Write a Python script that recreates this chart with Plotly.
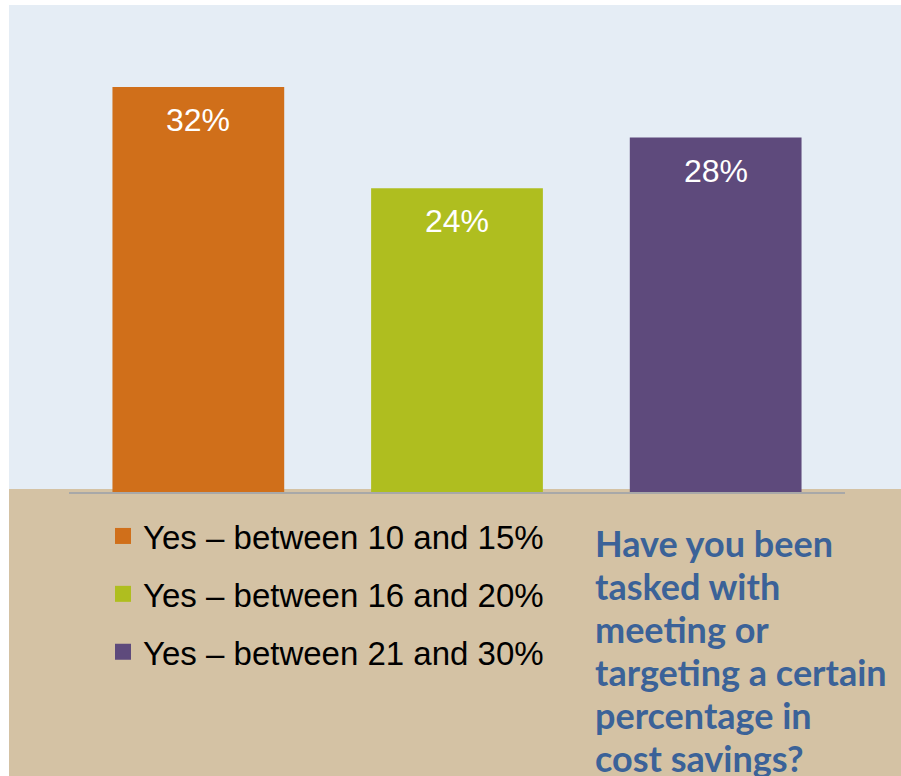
import plotly.graph_objects as go

# Survey responses: share of respondents per savings target band
categories = ["Yes – between 10 and 15%", "Yes – between 16 and 20%", "Yes – between 21 and 30%"]
values = [32, 24, 28]
bar_colors = ["#D06F1A", "#AFBE1F", "#5E4A7C"]
question_lines = [
    "Have you been",
    "tasked with",
    "meeting or",
    "targeting a certain",
    "percentage in",
    "cost savings?",
]

W, H = 901, 776
PLOT_L, PLOT_R = 69, 845
PLOT_T, PLOT_B = 5, 492
Y_MAX = (PLOT_B - PLOT_T) / 12.66


def px_x(px):
    return (px - PLOT_L) / (PLOT_R - PLOT_L)


def px_y(py):
    return (PLOT_B - py) / (PLOT_B - PLOT_T)


fig = go.Figure()

fig.add_trace(go.Bar(
    x=categories,
    y=values,
    marker=dict(color=bar_colors, line=dict(width=0)),
    showlegend=False,
    hoverinfo="skip",
))

# Legend entries with larger square swatches
for i, (name, col) in enumerate(zip(categories, bar_colors)):
    fig.add_trace(go.Scatter(
        x=[None], y=[None], mode="markers", name=name,
        legendgroup=f"g{i}",
        marker=dict(symbol="square", size=16, color=col, line=dict(width=0)),
    ))

# Value labels inside the top of each bar
for cat, v in zip(categories, values):
    fig.add_annotation(
        x=cat, y=v, text=f"{v}%", showarrow=False,
        yanchor="middle", yshift=-33,
        font=dict(family="Arial, Liberation Sans, sans-serif", size=32, color="white"),
    )

# Question text, one annotation per line for tight leading
line_centers = [543, 586, 629, 672, 715, 758]
for txt, cy in zip(question_lines, line_centers):
    fig.add_annotation(
        xref="paper", yref="paper", x=px_x(593), y=px_y(cy),
        xanchor="left", yanchor="middle", showarrow=False,
        text=f"<b>{txt}</b>",
        font=dict(family="Lato, sans-serif", size=36, color="#3B6298"),
    )

# Background panels: light blue chart area, tan lower band
fig.add_shape(type="rect", xref="paper", yref="paper", layer="below",
              x0=px_x(9), x1=px_x(905), y0=px_y(489), y1=px_y(5),
              fillcolor="#E5EDF5", line=dict(width=0))
fig.add_shape(type="rect", xref="paper", yref="paper", layer="below",
              x0=px_x(9), x1=px_x(905), y0=px_y(780), y1=px_y(489),
              fillcolor="#D4C2A4", line=dict(width=0))

fig.update_layout(
    width=W, height=H,
    margin=dict(l=PLOT_L, r=W - PLOT_R, t=PLOT_T, b=H - PLOT_B, pad=0),
    paper_bgcolor="white",
    plot_bgcolor="rgba(0,0,0,0)",
    bargap=0.336,
    xaxis=dict(
        range=[-0.5, 2.5], showticklabels=False, ticks="",
        showline=True, linecolor="#A8A8A8", linewidth=2,
        showgrid=False, zeroline=False, fixedrange=True,
    ),
    yaxis=dict(
        range=[0, Y_MAX], visible=False, showgrid=False, zeroline=False,
    ),
    legend=dict(
        x=px_x(103), y=px_y(508), xanchor="left", yanchor="top",
        bgcolor="rgba(0,0,0,0)", borderwidth=0,
        traceorder="grouped", tracegroupgap=12,
        font=dict(family="Arial, Liberation Sans, sans-serif", size=33, color="black"),
    ),
    showlegend=True,
)

fig.write_html("out.html")
